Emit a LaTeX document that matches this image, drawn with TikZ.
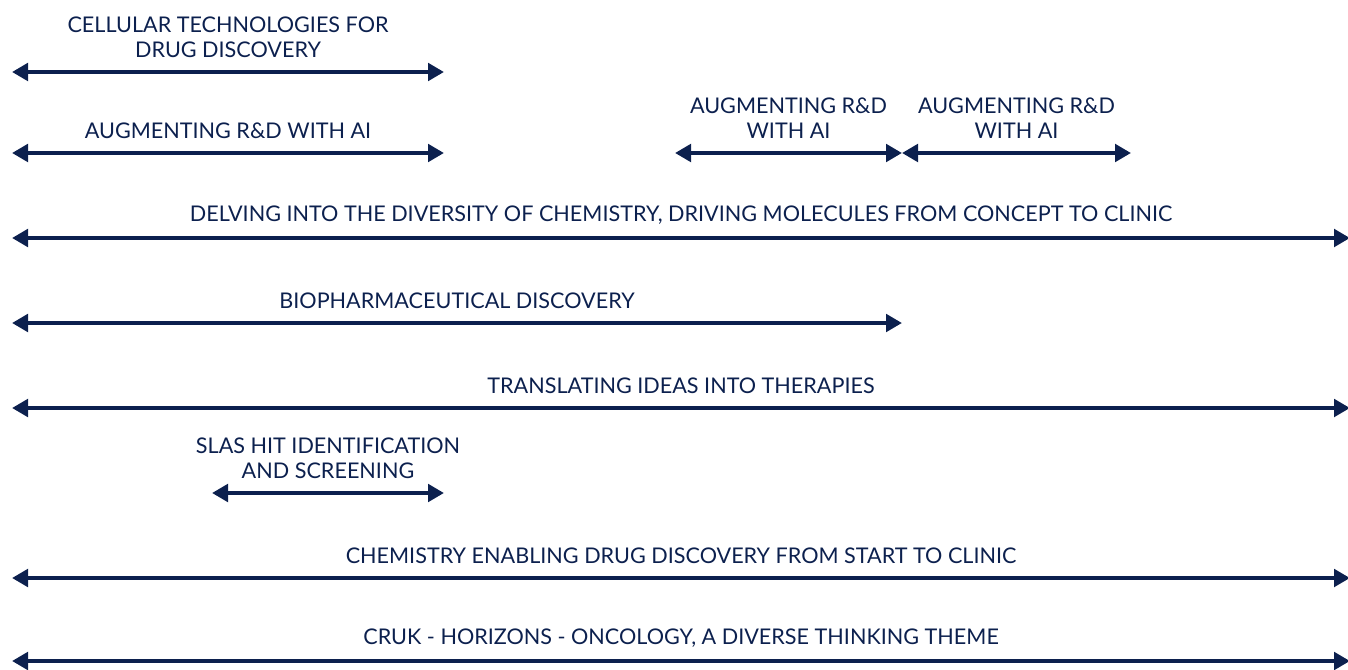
\documentclass[tikz,border=0pt]{standalone}
\usepackage{fontspec}
\setmainfont{Lato}
\usetikzlibrary{arrows.meta}
\definecolor{navy}{RGB}{12,32,78}
\tikzset{
  span/.style={draw=navy, line width=3pt, {Triangle[length=12pt,width=13pt]}-{Triangle[length=12pt,width=13pt]}},
  lbl/.style={above=9pt, inner sep=0pt, text=navy, align=center, font=\fontsize{16.2}{18.75}\selectfont}
}
\begin{document}
\begin{tikzpicture}[x=0.75pt, y=-0.75pt]
    \useasboundingbox (0,0) rectangle (1348,670);
    \coordinate (cellL) at (12,72);   \coordinate (cellR) at (444,72);
    \coordinate (aiL) at (12,153);    \coordinate (aiR) at (444,153);
    \coordinate (aiaL) at (675,153);  \coordinate (aiaR) at (902,153);
    \coordinate (aibL) at (902,153);  \coordinate (aibR) at (1131,153);
    \coordinate (chemL) at (12,238);  \coordinate (chemR) at (1350,238);
    \coordinate (bioL) at (12,323);   \coordinate (bioR) at (902,323);
    \coordinate (transL) at (12,408); \coordinate (transR) at (1350,408);
    \coordinate (slasL) at (212,493); \coordinate (slasR) at (444,493);
    \coordinate (enabL) at (12,578);  \coordinate (enabR) at (1350,578);
    \coordinate (crukL) at (12,661);  \coordinate (crukR) at (1350,661);
    \draw[span] (cellL) -- node[lbl] (cell) {CELLULAR TECHNOLOGIES FOR\\DRUG DISCOVERY} (cellR);
    \draw[span] (aiL) -- node[lbl] (ai) {AUGMENTING R\&D WITH AI} (aiR);
    \draw[span] (aiaL) -- node[lbl] (aia) {AUGMENTING R\&D\\WITH AI} (aiaR);
    \draw[span] (aibL) -- node[lbl] (aib) {AUGMENTING R\&D\\WITH AI} (aibR);
    \draw[span] (chemL) -- node[lbl] (chem) {DELVING INTO THE DIVERSITY OF CHEMISTRY, DRIVING MOLECULES FROM CONCEPT TO CLINIC} (chemR);
    \draw[span] (bioL) -- node[lbl] (bio) {BIOPHARMACEUTICAL DISCOVERY} (bioR);
    \draw[span] (transL) -- node[lbl] (trans) {TRANSLATING IDEAS INTO THERAPIES} (transR);
    \draw[span] (slasL) -- node[lbl] (slas) {SLAS HIT IDENTIFICATION\\AND SCREENING} (slasR);
    \draw[span] (enabL) -- node[lbl] (enab) {CHEMISTRY ENABLING DRUG DISCOVERY FROM START TO CLINIC} (enabR);
    \draw[span] (crukL) -- node[lbl] (cruk) {CRUK - HORIZONS - ONCOLOGY, A DIVERSE THINKING THEME} (crukR);
  \end{tikzpicture}
\end{document}
